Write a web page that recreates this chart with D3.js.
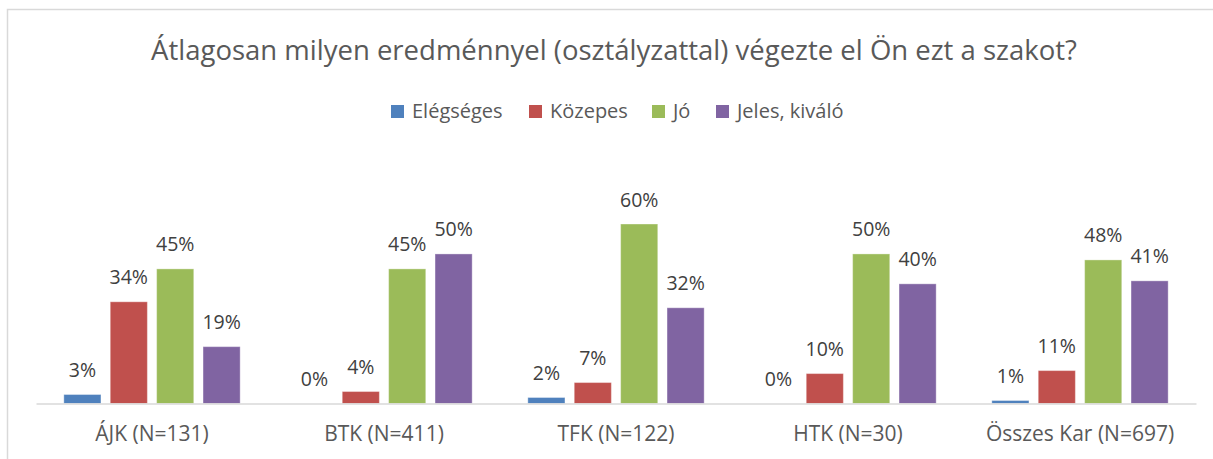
<!DOCTYPE html>
<html>
<head>
<meta charset="utf-8">
<script src="https://cdn.jsdelivr.net/npm/d3@7"></script>
<style>
  body { margin: 0; background: #fff; }
  text { font-family: "Open Sans", "Noto Sans", sans-serif; }
</style>
</head>
<body>
<script>
const title = "Átlagosan milyen eredménnyel (osztályzattal) végezte el Ön ezt a szakot?";
const categories = ["ÁJK (N=131)", "BTK (N=411)", "TFK (N=122)", "HTK (N=30)", "Összes Kar (N=697)"];
const seriesNames = ["Elégséges", "Közepes", "Jó", "Jeles, kiváló"];
const elegseges = [3, 0, 2, 0, 1];
const kozepes = [34, 4, 7, 10, 11];
const jo = [45, 45, 60, 50, 48];
const jeles = [19, 50, 32, 40, 41];
const colors = ["#4F81BD", "#C0504D", "#9BBB59", "#8064A2"];

const seriesValues = [elegseges, kozepes, jo, jeles];

const width = 1213;
const height = 459;

// Measurements
const plotLeft = 36;
const plotRight = 1196;
const baseY = 403.5;
const topY = 194.1;

const svg = d3.select("body")
  .append("svg")
  .attr("width", width)
  .attr("height", height)
  .attr("viewBox", `0 0 ${width} ${height}`);

// Card border
svg.append("rect")
  .attr("x", 7.5)
  .attr("y", 9.5)
  .attr("width", width + 20)
  .attr("height", height + 20)
  .attr("fill", "#fff")
  .attr("stroke", "#D9D9D9")
  .attr("stroke-width", 1.5);

// Title
svg.append("text")
  .attr("x", 614)
  .attr("y", 60)
  .attr("text-anchor", "middle")
  .attr("fill", "#595959")
  .style("font-size", "27.5px")
  .text(title);

// Legend
const legendX = [391, 529, 652, 716];
const legend = svg.append("g");
seriesNames.forEach((name, i) => {
  const g = legend.append("g").attr("transform", `translate(${legendX[i]}, 111)`);
  g.append("rect")
    .attr("x", 0)
    .attr("y", -6)
    .attr("width", 13)
    .attr("height", 13)
    .attr("fill", colors[i]);
  g.append("text")
    .attr("x", 21)
    .attr("y", 7)
    .attr("fill", "#595959")
    .style("font-size", "20px")
    .text(name);
});

// Scales
const x0 = d3.scaleBand()
  .domain(categories)
  .range([plotLeft, plotRight])
  .paddingInner(0.24)
  .paddingOuter(0.12);

const x1 = d3.scaleBand()
  .domain(seriesNames)
  .range([0, x0.bandwidth()])
  .paddingInner(0.2);

const y = d3.scaleLinear()
  .domain([0, 70])
  .range([baseY, topY]);

// Bars
const rows = categories.map((cat, ci) => ({
  cat,
  values: seriesNames.map((s, si) => ({ s, si, v: seriesValues[si][ci] }))
}));

const groups = svg.append("g")
  .selectAll("g")
  .data(rows)
  .enter()
  .append("g")
  .attr("transform", (d) => `translate(${x0(d.cat)}, 0)`);

groups.selectAll("rect")
  .data((d) => d.values)
  .enter()
  .append("rect")
  .attr("x", (d) => x1(d.s))
  .attr("y", (d) => y(d.v))
  .attr("width", x1.bandwidth())
  .attr("height", (d) => baseY - y(d.v))
  .attr("fill", (d) => colors[d.si])
  .attr("stroke", "rgba(255,255,255,0.35)")
  .attr("stroke-width", 1);

groups.selectAll("text")
  .data((d) => d.values)
  .enter()
  .append("text")
  .attr("x", (d) => x1(d.s) + x1.bandwidth() / 2)
  .attr("y", (d) => y(d.v) - 17.5)
  .attr("text-anchor", "middle")
  .attr("fill", "#404040")
  .style("font-size", "19.5px")
  .text((d) => d.v + "%");

// Axis
const axis = svg.append("g")
  .attr("transform", `translate(0, ${baseY})`)
  .call(d3.axisBottom(x0).tickSize(0));
axis.select(".domain").attr("stroke", "#D9D9D9").attr("stroke-width", 1.5);
axis.selectAll("text")
  .attr("y", 441 - baseY)
  .attr("dy", 0)
  .attr("fill", "#595959")
  .style("font-size", "21px")
  .style("font-family", "'Open Sans', 'Noto Sans', sans-serif");
</script>
</body>
</html>
